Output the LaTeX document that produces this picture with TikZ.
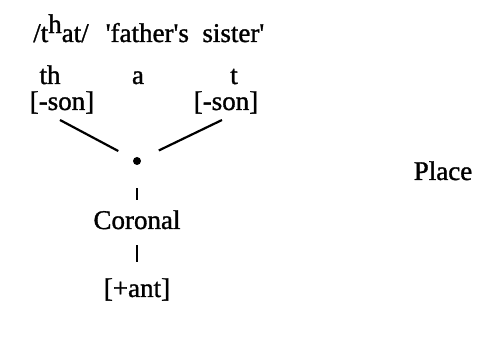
\documentclass[tikz,border=0pt]{standalone}
\usepackage{fontspec}
\setmainfont{Liberation Serif}[FakeBold=1.2]
\newcommand{\sq}{\textquotesingle}
\begin{document}
\begin{tikzpicture}[x=1pt,y=-1pt,
  lab/.style={font=\fontsize{27}{27}\selectfont, inner sep=0pt, anchor=base},
  seg/.style={line width=2.2pt}]
\useasboundingbox (0,0) rectangle (499,339);
\node[lab] (form) at (61,42) {/t\raisebox{0.33em}{h}at/};
\node[lab] (gloss) at (185,42) {\sq father\sq s\ \ sister\sq};
\node[lab] (th) at (50,84) {th};
\node[lab] (a) at (138,84) {a};
\node[lab] (t) at (234,84) {t};
\node[lab] (sonL) at (62,110) {[-son]};
\node[lab] (sonR) at (226,110) {[-son]};
\node[circle, fill, inner sep=0pt, minimum size=8pt] (dot) at (137,161) {};
\node[lab] (cor) at (137,229) {Coronal};
\node[lab] (ant) at (137,297) {[+ant]};
\node[lab] (place) at (443,180) {Place};
\coordinate (lt) at (60,120);
\coordinate (rt) at (222,120);
\draw[seg, shorten >=17pt] (lt) -- (dot);
\draw[seg, shorten >=20pt] (rt) -- (dot);
\draw[seg, shorten <=23pt, shorten >=10pt] (dot) -- (cor.north);
\draw[seg, shorten <=16pt, shorten >=16pt] (cor.south) -- (ant.north);
\end{tikzpicture}
\end{document}
